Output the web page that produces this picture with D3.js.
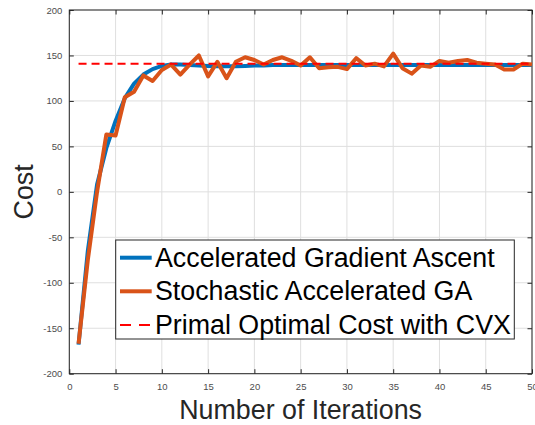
<!DOCTYPE html>
<html>
<head>
<meta charset="utf-8">
<script src="https://cdn.jsdelivr.net/npm/d3@7"></script>
<style>
  body { margin: 0; background: #fff; }
  svg { display: block; font-family: Helvetica, Arial, "Liberation Sans", sans-serif; }
</style>
</head>
<body>
<div id="chart"></div>
<script>
// iteration index on the x axis
const iterations = d3.range(1, 51);

// Accelerated Gradient Ascent (smooth)
const agaCost = [
  -168, -65, 8, 48, 78, 103, 119, 129, 135, 138.5,
  140, 140, 139.5, 139, 138.5, 138, 138, 138, 138.5, 139,
  139, 139.5, 139.5, 139.5, 139.5, 139.5, 139.5, 139.5, 139.5, 139.5,
  139.5, 139.5, 139.5, 139.5, 139.5, 139.5, 139.5, 139.5, 139.5, 139.5,
  139.5, 139.5, 139.5, 139.5, 139.5, 139.5, 139.5, 139.5, 139.5, 139.5
];

// Stochastic Accelerated GA (noisy)
const sagaCost = [
  -167, -75, 0, 63, 62, 104, 110, 128, 122, 134,
  140, 129, 140, 150, 127, 143, 125, 143, 148, 145,
  140, 145, 148, 144, 139, 148, 136, 137, 137.5, 135,
  147, 139, 141, 138, 152, 136, 130, 139, 137.5, 144,
  142, 144, 145, 142, 141, 140, 134.5, 134.5, 141, 140
];

// primal optimum from CVX (constant)
const cvxCost = 141;

const seriesNames = [
  "Accelerated Gradient Ascent",
  "Stochastic Accelerated GA",
  "Primal Optimal Cost with CVX"
];
const xTicks = [0, 5, 10, 15, 20, 25, 30, 35, 40, 45, 50];
const yTicks = [-200, -150, -100, -50, 0, 50, 100, 150, 200];

const W = 535, H = 425;
const margin = { top: 10, right: 3, bottom: 51.3, left: 69.3 };
const width = W - margin.left - margin.right;
const height = H - margin.top - margin.bottom;

const axisColor = "#262626";
const blue = "#0072BD", orange = "#D95319", red = "#FF0000";

const svg = d3.select("#chart").append("svg")
    .attr("width", W)
    .attr("height", H);

const g = svg.append("g")
    .attr("transform", `translate(${margin.left},${margin.top})`);

const x = d3.scaleLinear().domain([0, 50]).range([0, width]);
const y = d3.scaleLinear().domain([-200, 200]).range([height, 0]);

// grid
g.append("g").selectAll("line")
    .data(xTicks)
    .enter().append("line")
    .attr("x1", d => x(d)).attr("x2", d => x(d))
    .attr("y1", 0).attr("y2", height)
    .attr("stroke", "#dfdfdf").attr("stroke-width", 1);
g.append("g").selectAll("line")
    .data(yTicks)
    .enter().append("line")
    .attr("x1", 0).attr("x2", width)
    .attr("y1", d => y(d)).attr("y2", d => y(d))
    .attr("stroke", "#dfdfdf").attr("stroke-width", 1);

// axes (ticks inward, on all four sides)
const plainFormat = d => String(d); // hyphen minus like matlab

function styleAxis(sel, showLabels) {
    sel.select(".domain").remove();
    sel.selectAll(".tick line").attr("stroke", axisColor);
    sel.selectAll(".tick text")
        .attr("fill", "#4d4d4d")
        .attr("font-size", "9.5px")
        .attr("font-family", "Helvetica, Arial, 'Liberation Sans', sans-serif");
    if (!showLabels) sel.selectAll(".tick text").remove();
}

g.append("g")
    .attr("transform", `translate(0,${height})`)
    .call(d3.axisBottom(x).tickValues(xTicks).tickSize(-4.5).tickPadding(10).tickFormat(plainFormat))
    .call(s => styleAxis(s, true));
g.append("g")
    .call(d3.axisTop(x).tickValues(xTicks).tickSize(-4.5))
    .call(s => styleAxis(s, false));
g.append("g")
    .call(d3.axisLeft(y).tickValues(yTicks).tickSize(-4.5).tickPadding(7).tickFormat(plainFormat))
    .call(s => styleAxis(s, true));
g.append("g")
    .attr("transform", `translate(${width},0)`)
    .call(d3.axisRight(y).tickValues(yTicks).tickSize(-4.5))
    .call(s => styleAxis(s, false));

// box
g.append("rect")
    .attr("x", 0).attr("y", 0)
    .attr("width", width).attr("height", height)
    .attr("fill", "none")
    .attr("stroke", axisColor)
    .attr("stroke-width", 1);

// lines
const line = d3.line()
    .x((d, i) => x(iterations[i]))
    .y(d => y(d));

g.append("path")
    .datum(agaCost)
    .attr("d", line)
    .attr("fill", "none")
    .attr("stroke", blue)
    .attr("stroke-width", 4)
    .attr("stroke-linejoin", "round");

g.append("path")
    .datum(sagaCost)
    .attr("d", line)
    .attr("fill", "none")
    .attr("stroke", orange)
    .attr("stroke-width", 4)
    .attr("stroke-linejoin", "round");

g.append("line")
    .attr("x1", x(iterations[0]))
    .attr("x2", x(iterations[iterations.length - 1]))
    .attr("y1", y(cvxCost)).attr("y2", y(cvxCost))
    .attr("stroke", red)
    .attr("stroke-width", 2)
    .attr("stroke-dasharray", "8,5");

// axis labels
svg.append("text")
    .attr("x", margin.left + width / 2)
    .attr("y", 419)
    .attr("text-anchor", "middle")
    .attr("font-size", "26.8px")
    .attr("fill", axisColor)
    .text("Number of Iterations");

svg.append("text")
    .attr("transform", `translate(33,${margin.top + height / 2}) rotate(-90)`)
    .attr("text-anchor", "middle")
    .attr("font-size", "26.8px")
    .attr("fill", axisColor)
    .text("Cost");

// legend
const legend = svg.append("g");
legend.append("rect")
    .attr("x", 115.7).attr("y", 240)
    .attr("width", 398.6).attr("height", 99)
    .attr("fill", "#fff")
    .attr("stroke", axisColor)
    .attr("stroke-width", 1);

const legendStyles = [
    { color: blue, w: 4, dash: null },
    { color: orange, w: 4, dash: null },
    { color: red, w: 2, dash: "11,8" }
];

seriesNames.forEach((name, i) => {
    const cy = 257.7 + i * 33.6;
    legend.append("line")
        .attr("x1", 120).attr("x2", 151.7)
        .attr("y1", cy).attr("y2", cy)
        .attr("stroke", legendStyles[i].color)
        .attr("stroke-width", legendStyles[i].w)
        .attr("stroke-dasharray", legendStyles[i].dash);
    legend.append("text")
        .attr("x", 155)
        .attr("y", cy + 9)
        .attr("font-size", "26.8px")
        .attr("fill", "#000")
        .text(name);
});
</script>
</body>
</html>
